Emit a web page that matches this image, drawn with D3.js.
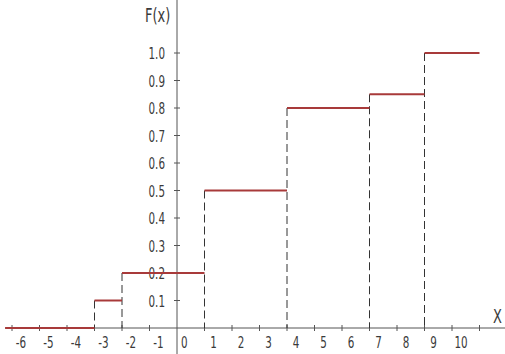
<!DOCTYPE html>
<html>
<head>
<meta charset="utf-8">
<script src="https://cdn.jsdelivr.net/npm/d3@7"></script>
<style>
  body { margin: 0; background: #fff; }
  svg text { font-family: "DejaVu Sans Condensed", "Liberation Sans Narrow", sans-serif; fill: #3a3a3a; }
</style>
</head>
<body>
<div id="chart"></div>
<script>
// step points of the distribution function
var stepX = [-3, -2, 1, 4, 7, 9];
var stepF = [0.1, 0.2, 0.5, 0.8, 0.85, 1.0];
var xStart = -6.25, xEnd = 11;

var xTicks = [-6, -5, -4, -3, -2, -1, 0, 1, 2, 3, 4, 5, 6, 7, 8, 9, 10, 11];
var xTickLabels = ["-6", "-5", "-4", "-3", "-2", "-1", "0", "1", "2", "3", "4", "5", "6", "7", "8", "9", "10", ""];
var yTicks = [0.1, 0.2, 0.3, 0.4, 0.5, 0.6, 0.7, 0.8, 0.9, 1.0];
var yTickLabels = ["0.1", "0.2", "0.3", "0.4", "0.5", "0.6", "0.7", "0.8", "0.9", "1.0"];

var width = 505, height = 354;

var svg = d3.select("#chart").append("svg")
  .attr("width", width)
  .attr("height", height);

var x = d3.scaleLinear().domain([-6, 11]).range([12, 479.5]);
var y = d3.scaleLinear().domain([0, 1]).range([328, 53]);

// narrow, tall lettering like the drafting font of the original
function label(px, py, str, size, anchor) {
  svg.append("g")
    .attr("transform", "translate(" + px + "," + py + ") scale(0.72,1)")
    .append("text")
    .attr("font-size", size)
    .attr("text-anchor", anchor || "start")
    .text(str);
}

// axes lines
svg.append("line")
  .attr("x1", 5).attr("x2", width)
  .attr("y1", y(0)).attr("y2", y(0))
  .attr("stroke", "#555").attr("stroke-width", 1);

svg.append("line")
  .attr("x1", x(0)).attr("x2", x(0))
  .attr("y1", 0).attr("y2", height)
  .attr("stroke", "#555").attr("stroke-width", 1);

// x ticks
xTicks.forEach(function(d, i) {
  if (d === 0) {
    label(x(d) + 4, y(0) + 20, xTickLabels[i], 16);
    return;
  }
  svg.append("line")
    .attr("x1", x(d)).attr("x2", x(d))
    .attr("y1", y(0) - 3).attr("y2", y(0) + 3)
    .attr("stroke", "#555");
  label(x(d) + 9, y(0) + 20, xTickLabels[i], 16, "middle");
});

// y ticks
yTicks.forEach(function(d, i) {
  svg.append("line")
    .attr("x1", x(0) - 3).attr("x2", x(0) + 3)
    .attr("y1", y(d)).attr("y2", y(d))
    .attr("stroke", "#555");
  label(x(0) - 12, y(d) + 6, yTickLabels[i], 16, "end");
});

// axis titles
label(145, 22, "F(x)", 20);
label(493, 323, "X", 20);

// dashed drop lines
svg.selectAll(".drop")
  .data(stepX)
  .enter().append("line")
  .attr("class", "drop")
  .attr("x1", function(d) { return x(d); })
  .attr("x2", function(d) { return x(d); })
  .attr("y1", function(d, i) { return y(stepF[i]); })
  .attr("y2", y(0))
  .attr("stroke", "#333")
  .attr("stroke-width", 1)
  .attr("stroke-dasharray", "8,4");

// red horizontal steps
var segs = [{x0: xStart, x1: stepX[0], f: 0}];
stepX.forEach(function(d, i) {
  segs.push({x0: d, x1: i < stepX.length - 1 ? stepX[i + 1] : xEnd, f: stepF[i]});
});

svg.selectAll(".step")
  .data(segs)
  .enter().append("line")
  .attr("class", "step")
  .attr("x1", function(d) { return x(d.x0); })
  .attr("x2", function(d) { return x(d.x1); })
  .attr("y1", function(d) { return y(d.f); })
  .attr("y2", function(d) { return y(d.f); })
  .attr("stroke", "#a83a3a")
  .attr("stroke-width", 2);
</script>
</body>
</html>
